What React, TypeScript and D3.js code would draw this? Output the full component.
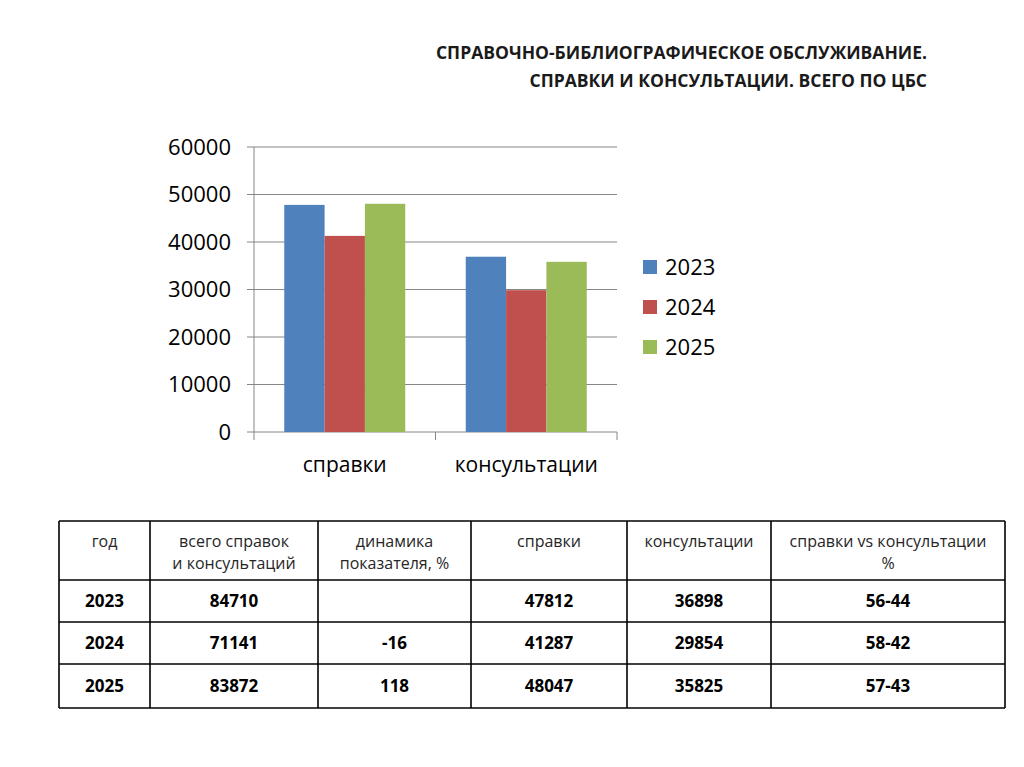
import React from 'react';
import * as d3 from 'd3';

// chart data
const categories = ['справки', 'консультации'];
const years = ['2023', '2024', '2025'];
const spravkiValues = [47812, 41287, 48047];
const konsultValues = [36898, 29854, 35825];
const yTicks = [0, 10000, 20000, 30000, 40000, 50000, 60000];

// table data
const headerLines = [
  ['год'],
  ['всего справок', 'и консультаций'],
  ['динамика', 'показателя, %'],
  ['справки'],
  ['консультации'],
  ['справки vs консультации', '%'],
];
const totals = ['84710', '71141', '83872'];
const dynamics = ['', '-16', '118'];
const spravkiCol = ['47812', '41287', '48047'];
const konsultCol = ['36898', '29854', '35825'];
const ratios = ['56-44', '58-42', '57-43'];

const colors = ['#4F81BD', '#C0504D', '#9BBB59'];
const FONT = '"Open Sans", "Noto Sans", sans-serif';
const axisColor = '#868686';

const App: React.FC = () => {
  const width = 1024;
  const height = 767;

  const y = d3.scaleLinear().domain([0, 60000]).range([432, 147]);
  const x0 = d3.scaleBand<string>().domain(categories).range([254, 617]);
  const x1 = d3.scaleBand<string>()
    .domain(years)
    .range([0, x0.bandwidth()])
    .paddingInner(0)
    .paddingOuter(0.75);

  const series = categories.map((c, i) => ({
    category: c,
    values: years.map((yr, j) => ({
      year: yr,
      value: i === 0 ? spravkiValues[j] : konsultValues[j],
    })),
  }));

  // table layout
  const colEdges = [59, 150, 318, 471, 627, 771, 1005];
  const rowEdges = [521, 580, 622, 664, 708];
  const tx = d3.scaleOrdinal<number, number>()
    .domain(d3.range(6))
    .range(d3.range(6).map(i => (colEdges[i] + colEdges[i + 1]) / 2));
  const rows = years.map((yr, i) => [yr, totals[i], dynamics[i], spravkiCol[i], konsultCol[i], ratios[i]]);

  const xEdges = [x0.range()[0], ...categories.map(c => (x0(c) || 0) + x0.bandwidth())];

  return (
    <div style={{ position: 'absolute', left: 0, top: 0 }}>
      <svg width={width} height={height} style={{ display: 'block', background: '#fff' }}>
        {/* Title */}
        <g fontFamily={FONT} fontWeight="bold" fill="#1a1a1a" fontSize={17.5} textAnchor="end">
          <text x={927} y={59}>СПРАВОЧНО-БИБЛИОГРАФИЧЕСКОЕ ОБСЛУЖИВАНИЕ.</text>
          <text x={927} y={87}>СПРАВКИ И КОНСУЛЬТАЦИИ. ВСЕГО ПО ЦБС</text>
        </g>

        {/* Gridlines */}
        <g stroke={axisColor} strokeWidth={1}>
          {yTicks.map(t => (
            <line key={t} x1={247} x2={617} y1={y(t)} y2={y(t)} />
          ))}
          <line x1={254} x2={254} y1={y(60000)} y2={y(0)} />
          {xEdges.map((xe, i) => (
            <line key={i} x1={xe} x2={xe} y1={y(0)} y2={y(0) + 8} />
          ))}
        </g>

        {/* Bars */}
        {series.map(s => (
          <g key={s.category} transform={`translate(${x0(s.category)},0)`}>
            {s.values.map((d, j) => (
              <rect
                key={d.year}
                x={x1(d.year)}
                y={y(d.value)}
                width={x1.bandwidth()}
                height={y(0) - y(d.value)}
                fill={colors[j]}
              />
            ))}
          </g>
        ))}

        {/* Y tick labels */}
        <g fontFamily={FONT} fontSize={22} fill="#000" textAnchor="end">
          {yTicks.map(t => (
            <text key={t} x={231} y={y(t)} dy="0.36em">{t}</text>
          ))}
        </g>

        {/* Category labels */}
        <g fontFamily={FONT} fontSize={21} fill="#000" textAnchor="middle">
          {categories.map(c => (
            <text key={c} x={(x0(c) || 0) + x0.bandwidth() / 2} y={472}>{c}</text>
          ))}
        </g>

        {/* Legend */}
        <g fontFamily={FONT} fontSize={22} fill="#000">
          {years.map((yr, i) => (
            <g key={yr} transform={`translate(643,${267 + i * 40})`}>
              <rect x={0} y={-7} width={14} height={14} fill={colors[i]} />
              <text x={22} y={0} dy="0.36em">{yr}</text>
            </g>
          ))}
        </g>

        {/* Table */}
        <g stroke="#000" strokeWidth={1.6}>
          {rowEdges.map(r => (
            <line key={`r${r}`} x1={colEdges[0]} x2={colEdges[6]} y1={r} y2={r} />
          ))}
          {colEdges.map(c => (
            <line key={`c${c}`} x1={c} x2={c} y1={rowEdges[0]} y2={rowEdges[4]} />
          ))}
        </g>
        <g fontFamily={FONT} fontSize={16} fill="#262626" textAnchor="middle">
          {headerLines.map((lines, i) => (
            <text key={i} x={tx(i)} y={547}>
              {lines.map((ln, k) => (
                <tspan key={k} x={tx(i)} dy={k === 0 ? 0 : 22}>{ln}</tspan>
              ))}
            </text>
          ))}
        </g>
        <g fontFamily={FONT} fontSize={17} fontWeight="bold" fill="#000" textAnchor="middle">
          {rows.map((row, ri) =>
            row.map((cell, ci) => (
              <text key={`${ri}-${ci}`} x={tx(ci)} y={(rowEdges[ri + 1] + rowEdges[ri + 2]) / 2} dy="0.36em">
                {cell}
              </text>
            ))
          )}
        </g>
      </svg>
    </div>
  );
};

export default App;
